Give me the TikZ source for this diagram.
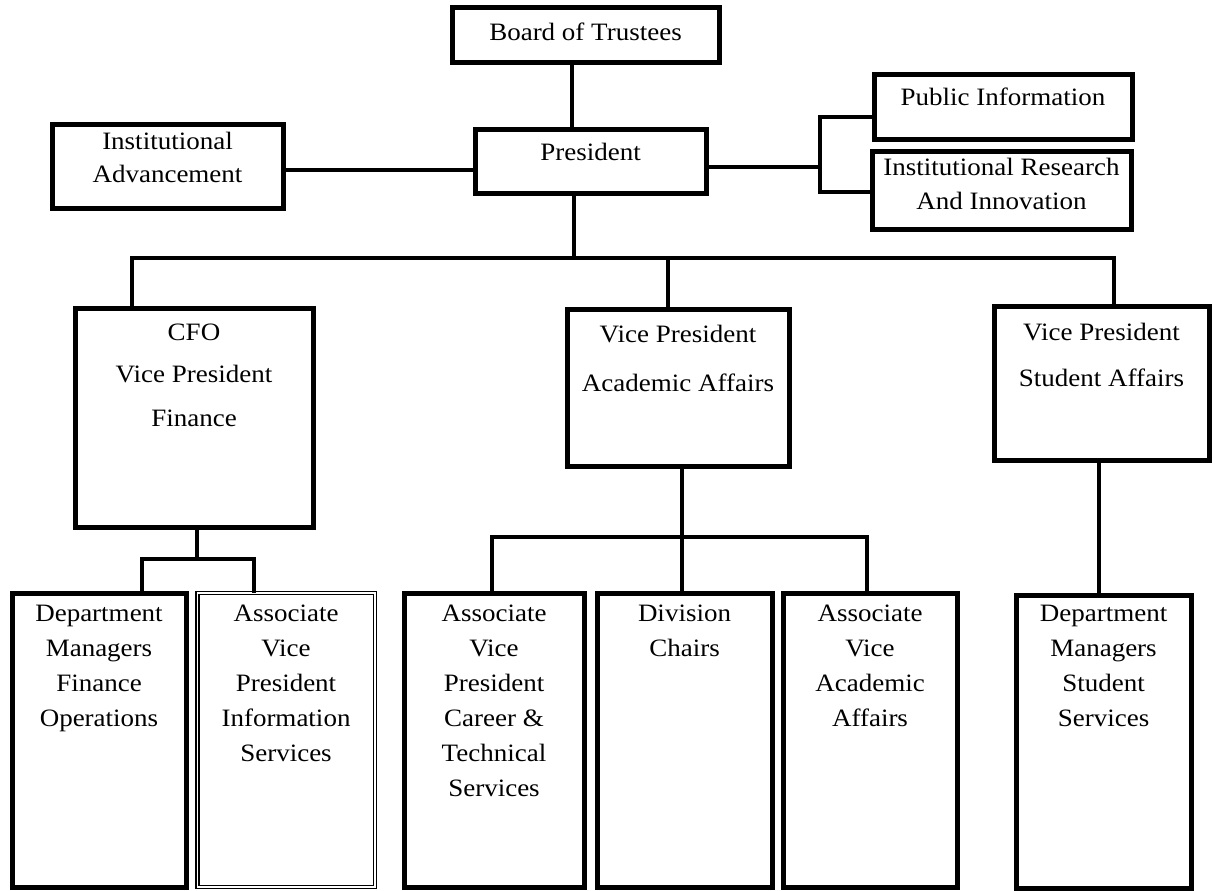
\documentclass[tikz,border=0pt]{standalone}
\usepackage{fontspec}
\setmainfont{Liberation Serif}[FakeStretch=1.08]
\usetikzlibrary{fit}
\newcommand{\mltext}[2]{{\fontsize{18.75pt}{#1}\selectfont\begin{tabular}[t]{@{}c@{}}#2\end{tabular}}}
\begin{document}
\begin{tikzpicture}[x=0.75pt,y=-0.75pt,
  box/.style={draw=black, line width=3.75pt, inner sep=0pt, outer sep=0pt, rectangle},
  dbox/.style={draw=black, double=white, double distance=0.8pt, line width=1.3pt, inner sep=0pt, outer sep=0pt, rectangle},
  conn/.style={draw=black, line width=3pt, line join=miter},
  txt/.style={anchor=base, inner sep=0pt, outer sep=0pt}]
\fill[white] (0,0) rectangle (1228,891);
\path[use as bounding box] (0,0) rectangle (1228,891);
% boxes
\node[box, fit={(452,8) (719,63)}] (board) {};
\node[box, fit={(475,130) (706,194)}] (pres) {};
\node[box, fit={(52,125) (283,209)}] (adv) {};
\node[box, fit={(874,75) (1132,140)}] (pubinfo) {};
\node[box, fit={(872,152) (1131,230)}] (instres) {};
\node[box, fit={(75,309) (313,527)}] (cfo) {};
\node[box, fit={(567,310) (789,466)}] (vpaa) {};
\node[box, fit={(994,307) (1209,460)}] (vpsa) {};
\node[box, fit={(12,593) (186,887)}] (dmf) {};
\node[dbox, fit={(197.5,593) (375,887)}] (avpis) {};
\node[box, fit={(404,593) (584,887)}] (avpct) {};
\node[box, fit={(597,593) (772,887)}] (divch) {};
\node[box, fit={(783,593) (957,887)}] (avaa) {};
\node[box, fit={(1016,595) (1191,888)}] (dmss) {};
% texts
\node[txt] (board-t) at (585.5,41) {\mltext{26pt}{Board of Trustees}};
\node[txt] (pres-t) at (590.5,161) {\mltext{26pt}{President}};
\node[txt] (adv-t) at (167.5,150) {\mltext{24.75pt}{Institutional\\Advancement}};
\node[txt] (pub-t) at (1003,106) {\mltext{26pt}{Public Information}};
\node[txt] (ir-t) at (1001.5,176) {\mltext{25.5pt}{Institutional Research\\And Innovation}};
\node[txt] (cfo-t) at (194,340) {\mltext{32.25pt}{CFO\\Vice President\\Finance}};
\node[txt] (vpaa-t) at (678,343) {\mltext{36pt}{Vice President\\Academic Affairs}};
\node[txt] (vpsa-t) at (1101.5,340) {\mltext{34.5pt}{Vice President\\Student Affairs}};
\node[txt] (dmf-t) at (99,621) {\mltext{26.25pt}{Department\\Managers\\Finance\\Operations}};
\node[txt] (avpis-t) at (286,621) {\mltext{26.25pt}{Associate\\Vice\\President\\Information\\Services}};
\node[txt] (avpct-t) at (494,621) {\mltext{26.25pt}{Associate\\Vice\\President\\Career \&\\Technical\\Services}};
\node[txt] (divch-t) at (684.5,621) {\mltext{26.25pt}{Division\\Chairs}};
\node[txt] (avaa-t) at (870,621) {\mltext{26.25pt}{Associate\\Vice\\Academic\\Affairs}};
\node[txt] (dmss-t) at (1103.5,621) {\mltext{26.25pt}{Department\\Managers\\Student\\Services}};
% connector coordinates
\coordinate (xBP) at (572,0);
\coordinate (xPD) at (574,0);
\coordinate (ybar) at (0,258);
\coordinate (xL) at (132,0);
\coordinate (xM) at (668,0);
\coordinate (xR) at (1114,0);
\coordinate (yAdv) at (0,170);
\coordinate (yPR) at (0,167);
\coordinate (brk) at (820,167);
\coordinate (yPub) at (0,117);
\coordinate (yIR) at (0,192);
\coordinate (xCF) at (197,0);
\coordinate (yCF) at (0,559);
\coordinate (xCF1) at (142,0);
\coordinate (xCF2) at (254,0);
\coordinate (xAA) at (682,0);
\coordinate (yAA) at (0,537);
\coordinate (xAA1) at (491.5,0);
\coordinate (xAA3) at (866.5,0);
\coordinate (xSA) at (1099,0);
% connectors
\draw[conn] (board.south -| xBP) -- (pres.north -| xBP);
\draw[conn] (pres.south -| xPD) -- (ybar -| xPD);
\draw[conn] (cfo.north -| xL) |- (ybar -| xR) -- (vpsa.north -| xR);
\draw[conn] (ybar -| xM) -- (vpaa.north -| xM);
\draw[conn] (adv.east |- yAdv) -- (pres.west |- yAdv);
\draw[conn] (pres.east |- yPR) -- (brk);
\draw[conn] (pubinfo.west |- yPub) -| (brk |- yIR) -- (instres.west |- yIR);
\draw[conn] (cfo.south -| xCF) -- (yCF -| xCF);
\draw[conn] (dmf.north -| xCF1) |- (yCF -| xCF2) -- (avpis.north -| xCF2);
\draw[conn] (vpaa.south -| xAA) -- (divch.north -| xAA);
\draw[conn] (avpct.north -| xAA1) |- (yAA -| xAA3) -- (avaa.north -| xAA3);
\draw[conn] (vpsa.south -| xSA) -- (dmss.north -| xSA);
\end{tikzpicture}
\end{document}
